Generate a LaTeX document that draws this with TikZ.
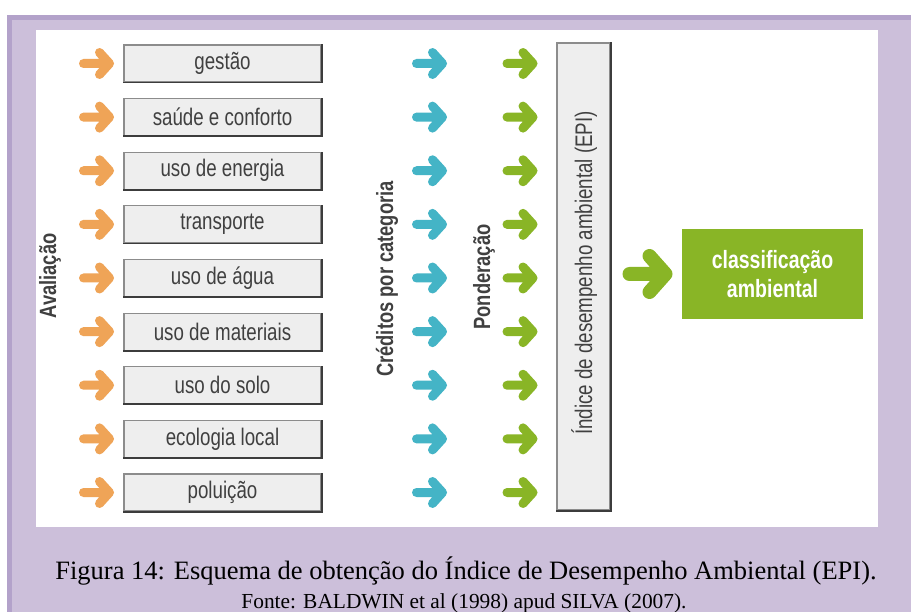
\documentclass[tikz,border=0pt]{standalone}
\usepackage{fontspec}
\setmainfont{Liberation Serif}
\newfontfamily\cond[FakeStretch=0.78]{Liberation Sans}
\definecolor{lav}{HTML}{CCBFDA}
\definecolor{lavdark}{HTML}{B3A2CA}
\definecolor{boxfill}{HTML}{EEEEEE}
\definecolor{boxline}{HTML}{8C8C8C}
\definecolor{boxshadow}{HTML}{3C3C3C}
\definecolor{txtgray}{HTML}{404040}
\definecolor{orangeA}{HTML}{EFA457}
\definecolor{tealA}{HTML}{44B4C6}
\definecolor{greenA}{HTML}{89B526}
\tikzset{
  catbox/.style={draw=boxline, line width=1.2pt, fill=boxfill, minimum width=197pt, minimum height=37pt, inner sep=0pt, text=txtgray, font=\cond\fontsize{24}{28}\selectfont},
  shadowedge/.style={draw=boxshadow, line width=1.8pt},
  vlabel/.style={rotate=90, anchor=base, inner sep=0pt, text=txtgray, font=\cond\bfseries\fontsize{23.5}{28}\selectfont},
  pics/fatarrow/.style={code={\draw[#1, line width=9pt, line cap=round, line join=round] (-13,0) -- (13,0) (3,-11) -- (13,0) -- (3,11);}},
  pics/bigarrow/.style={code={\draw[#1, line width=14pt, line cap=round, line join=round] (-18,0) -- (18,0) (2,-18) -- (18,0) -- (2,18);}}
}
\begin{document}
\begin{tikzpicture}[x=1pt,y=-1pt]
\useasboundingbox (0,0) rectangle (911,612);
% background frame
\fill[white] (0,0) rectangle (911,612);
\fill[lav] (7,15) rectangle (911,612);
\fill[lavdark] (7,15) rectangle (911,20);
\fill[lavdark] (7,15) rectangle (12,612);
\fill[white] (36,30) rectangle (878,527);
% category boxes and arrows
\foreach \t [count=\i from 0] in {gestão, saúde e conforto, uso de energia, transporte, uso de água, uso de materiais, uso do solo, ecologia local, poluição}{
  \node[catbox] (b\i) at (222.5,{63.5+53.625*\i}) {\t};
  \draw[shadowedge] (b\i.south west) -- (b\i.south east) -- (b\i.north east);
  \pic at (96.5,{63.5+53.625*\i}) {fatarrow=orangeA};
  \pic at (429.5,{63.5+53.625*\i}) {fatarrow=tealA};
  \pic at (520,{63.5+53.625*\i}) {fatarrow=greenA};
}
% vertical labels
\node[vlabel] (aval) at (56,276) {Avaliação};
\node[vlabel] (cred) at (393,279) {Créditos por categoria};
\node[vlabel] (pond) at (490,277) {Ponderação};
% EPI box
\node[draw=boxline, line width=1.2pt, fill=boxfill, minimum width=53pt, minimum height=467pt, inner sep=0pt] (epi) at (583.5,276.5) {};
\draw[shadowedge] (epi.south west) -- (epi.south east) -- (epi.north east);
\node[rotate=90, anchor=base, inner sep=0pt, text=txtgray, font=\cond\fontsize{24}{28}\selectfont] (epitxt) at (592,273) {Índice de desempenho ambiental (EPI)};
% final arrow and classification box
\pic at (647.5,274) {bigarrow=greenA};
\node[fill=greenA, minimum width=181pt, minimum height=90pt, inner sep=0pt, text=white, align=center, font=\cond\bfseries\fontsize{25}{29}\selectfont] (cls) at (772.5,274) {classificação\\ambiental};
% caption
\node[anchor=base, inner sep=0pt, font=\fontsize{26.5}{31}\selectfont] (cap) at (466,579) {Figura 14: Esquema de obtenção do Índice de Desempenho Ambiental (EPI).};
\node[anchor=base, inner sep=0pt, font=\fontsize{21.4}{25}\selectfont] (src) at (464,608) {Fonte: BALDWIN et al (1998) apud SILVA (2007).};
\end{tikzpicture}
\end{document}
